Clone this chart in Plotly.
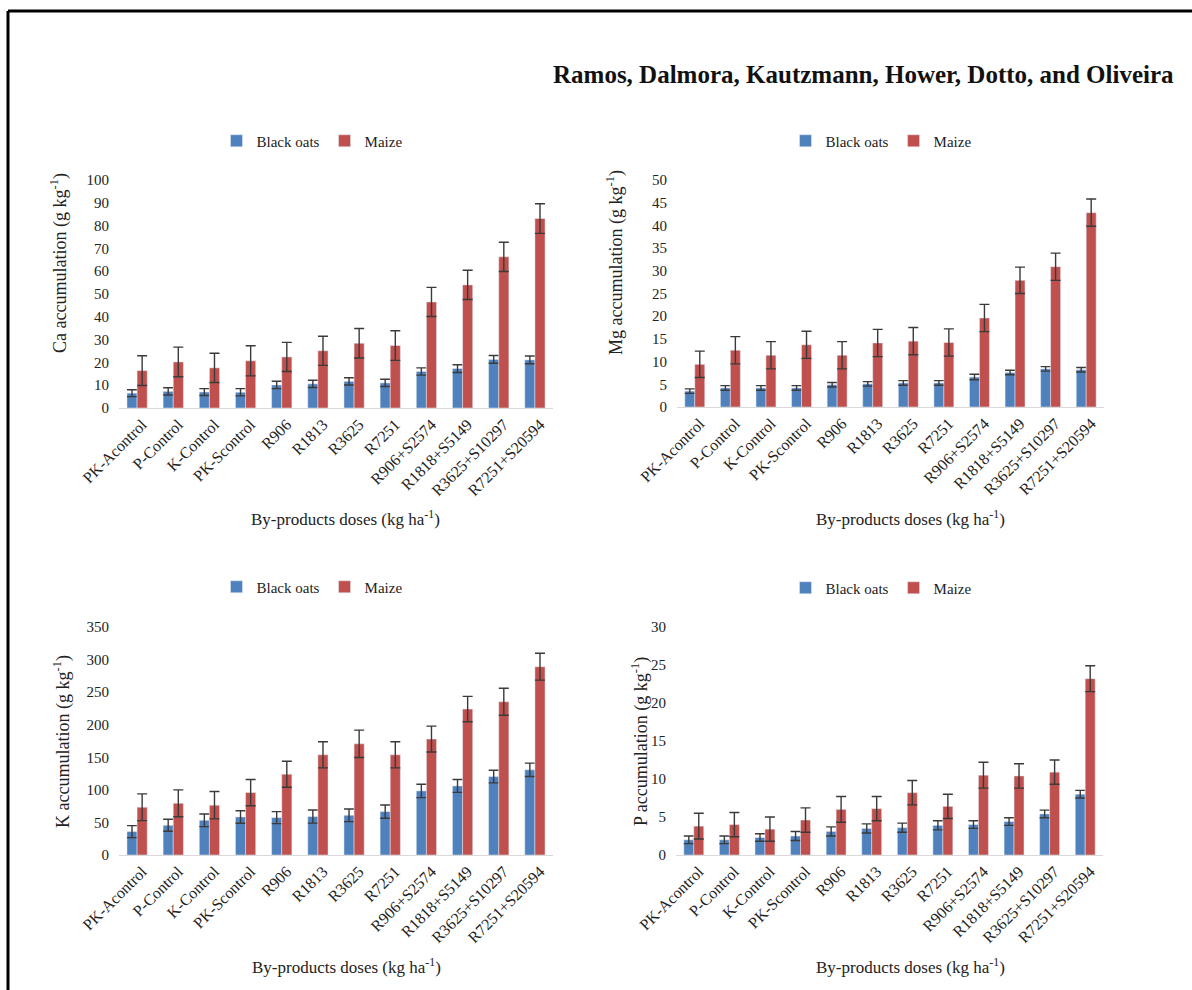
import plotly.graph_objects as go

# Treatments (by-product doses)
doses = ["PK-Acontrol", "P-Control", "K-Control", "PK-Scontrol", "R906", "R1813",
         "R3625", "R7251", "R906+S2574", "R1818+S5149", "R3625+S10297", "R7251+S20594"]

# Ca accumulation (g kg-1)
ca_oats = [6.5, 7.3, 7.0, 6.9, 10.1, 10.6, 11.7, 11.0, 16.0, 17.3, 21.3, 21.1]
ca_oats_err = [1.5, 1.6, 1.5, 1.6, 1.6, 1.6, 1.6, 1.6, 1.6, 1.7, 1.7, 1.7]
ca_maize = [16.4, 20.2, 17.6, 20.7, 22.4, 25.1, 28.4, 27.4, 46.5, 54.0, 66.3, 83.1]
ca_maize_err = [6.5, 6.5, 6.4, 6.6, 6.4, 6.4, 6.5, 6.5, 6.4, 6.4, 6.4, 6.5]

# Mg accumulation (g kg-1)
mg_oats = [3.5, 4.2, 4.2, 4.2, 4.9, 5.1, 5.3, 5.3, 6.6, 7.6, 8.4, 8.2]
mg_oats_err = [0.5, 0.5, 0.5, 0.5, 0.5, 0.5, 0.5, 0.5, 0.6, 0.5, 0.5, 0.5]
mg_maize = [9.4, 12.5, 11.4, 13.7, 11.4, 14.1, 14.5, 14.2, 19.6, 27.9, 30.9, 42.8]
mg_maize_err = [2.9, 3.0, 3.0, 3.0, 3.0, 3.0, 3.0, 3.0, 3.0, 2.9, 3.0, 3.0]

# K accumulation (g kg-1)
k_oats = [35.9, 45.6, 53.3, 58.4, 57.4, 59.0, 61.0, 66.6, 98.4, 106.0, 120.4, 130.7]
k_oats_err = [9.2, 9.2, 9.7, 9.6, 9.2, 10.0, 9.7, 10.2, 10.3, 9.8, 9.7, 10.3]
k_maize = [73.3, 79.4, 76.4, 95.8, 124.0, 153.8, 170.7, 153.8, 177.9, 224.0, 235.3, 289.0]
k_maize_err = [20.5, 20.6, 21.0, 20.2, 20.0, 20.0, 21.0, 20.0, 19.9, 19.5, 20.7, 20.6]

# P accumulation (g kg-1)
p_oats = [2.0, 2.0, 2.3, 2.5, 3.1, 3.5, 3.6, 3.9, 4.0, 4.4, 5.4, 8.0]
p_oats_err = [0.5, 0.5, 0.5, 0.6, 0.6, 0.6, 0.6, 0.6, 0.5, 0.5, 0.5, 0.5]
p_maize = [3.8, 4.0, 3.4, 4.6, 6.0, 6.1, 8.2, 6.4, 10.5, 10.4, 10.9, 23.2]
p_maize_err = [1.7, 1.6, 1.6, 1.6, 1.7, 1.6, 1.6, 1.6, 1.7, 1.6, 1.6, 1.7]

W, H = 1192, 990
FONT = "Liberation Serif, Times New Roman, serif"
BLUE = "#4F81BD"
RED = "#C0504D"
TXT = "#222222"


def fx(px):
    return px / W


def fy(py):
    return 1 - py / H


panels = [
    # (suffix, element, oats, oats_err, maize, maize_err, ymax, dtick,
    #  x0, x1, y_top, y_zero, ytitle_x, ytitle_y, xtitle_x, xtitle_y, legend_x, legend_y)
    ("", "Ca", ca_oats, ca_oats_err, ca_maize, ca_maize_err, 100, 10,
     119, 553, 180, 408, 59, 263, 345, 518, 312, 141),
    ("2", "Mg", mg_oats, mg_oats_err, mg_maize, mg_maize_err, 50, 5,
     677, 1104, 180, 407, 615, 263, 910, 518, 881, 141),
    ("3", "K", k_oats, k_oats_err, k_maize, k_maize_err, 350, 50,
     119, 553, 627, 855, 62, 742, 346, 966, 312, 587),
    ("4", "P", p_oats, p_oats_err, p_maize, p_maize_err, 30, 5,
     676, 1103, 627, 855, 640, 742, 910, 966, 881, 588),
]

fig = go.Figure()
layout = dict(
    width=W, height=H,
    margin=dict(l=0, r=0, t=0, b=0, autoexpand=False),
    paper_bgcolor="white", plot_bgcolor="white",
    barmode="group", bargap=0.44, bargroupgap=0.0,
    font=dict(family=FONT, size=15, color=TXT),
    annotations=[], shapes=[],
)

for (sfx, el, oats, oats_e, maize, maize_e, ymax, dtick,
     x0, x1, yt, yz, ytx, yty, xtx, xty, lx, ly) in panels:
    xa = "x" + sfx
    ya = "y" + sfx
    leg = "legend" + sfx
    err_style = dict(type="data", visible=True, color="#3a3a3a", thickness=1.4, width=5)
    fig.add_trace(go.Bar(
        x=doses, y=oats, name="Black oats", marker_color=BLUE,
        error_y=dict(array=oats_e, **err_style),
        xaxis=xa, yaxis=ya, legend=leg,
    ))
    fig.add_trace(go.Bar(
        x=doses, y=maize, name="Maize", marker_color=RED,
        error_y=dict(array=maize_e, **err_style),
        xaxis=xa, yaxis=ya, legend=leg,
    ))
    layout["xaxis" + sfx] = dict(
        domain=[fx(x0), fx(x1)], anchor=ya, automargin=False,
        showline=True, linecolor="#d9d9d9", linewidth=1,
        showgrid=False, zeroline=False, ticks="",
        tickangle=-45, tickfont=dict(family=FONT, size=16, color=TXT),
        ticklabelstandoff=0, ticklabelshift=5,
    )
    layout["yaxis" + sfx] = dict(
        domain=[fy(yz), fy(yt)], anchor=xa, automargin=False,
        range=[0, ymax], dtick=dtick, tick0=0,
        showline=False, showgrid=False, zeroline=False, ticks="",
        tickfont=dict(family=FONT, size=15, color=TXT),
        ticklabelstandoff=9,
    )
    layout[leg] = dict(
        orientation="h", x=fx(lx), y=fy(ly), xanchor="center", yanchor="middle",
        font=dict(family=FONT, size=15, color=TXT),
        bgcolor="rgba(0,0,0,0)", itemwidth=30, traceorder="normal",
    )
    layout["annotations"].append(dict(
        text=f"{el} accumulation (g kg<sup>-1</sup>)",
        x=fx(ytx), y=fy(yty), xref="paper", yref="paper",
        textangle=-90, showarrow=False, xanchor="center", yanchor="middle",
        font=dict(family=FONT, size=18, color=TXT),
    ))
    layout["annotations"].append(dict(
        text="By-products doses (kg ha<sup>-1</sup>)",
        x=fx(xtx), y=fy(xty), xref="paper", yref="paper",
        showarrow=False, xanchor="center", yanchor="middle",
        font=dict(family=FONT, size=17, color=TXT),
    ))

# Author line
layout["annotations"].append(dict(
    text="<b>Ramos, Dalmora, Kautzmann, Hower, Dotto, and Oliveira</b>",
    x=fx(1176), y=fy(74), xref="paper", yref="paper",
    showarrow=False, xanchor="right", yanchor="middle",
    font=dict(family=FONT, size=25, color="#111111"),
))

# Page frame (top and left edges)
layout["shapes"] = [
    dict(type="line", xref="paper", yref="paper", x0=fx(8), x1=1, y0=fy(11), y1=fy(11),
         line=dict(color="black", width=3)),
    dict(type="line", xref="paper", yref="paper", x0=fx(8), x1=fx(8), y0=0, y1=fy(11),
         line=dict(color="black", width=3)),
]

fig.update_layout(**layout)
fig.write_html("out.html")
